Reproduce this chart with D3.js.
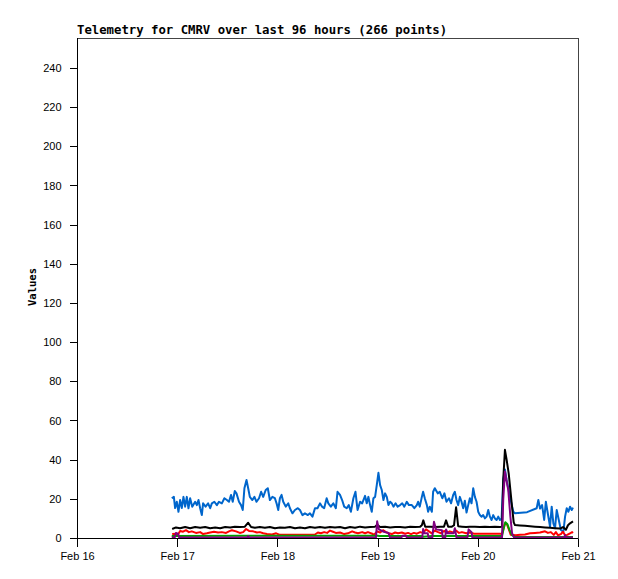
<!DOCTYPE html>
<html>
<head>
<meta charset="utf-8">
<script src="https://cdn.jsdelivr.net/npm/d3@7"></script>
<style>
  html, body { margin: 0; padding: 0; background: #fff; }
  svg { display: block; }
</style>
</head>
<body>
<svg id="chart" width="618" height="579"></svg>
<script>
// ---- data (time = hours since Feb 16 00:00) ----
const titleText = "Telemetry for CMRV over last 96 hours (266 points)";
const yLabel = "Values";
const xTickDays = [16, 17, 18, 19, 20, 21];
const yTickValues = [0, 20, 40, 60, 80, 100, 120, 140, 160, 180, 200, 220, 240];

const blueSeries = [[22.7,20.3],[23.2,21],[23.5,15.3],[23.9,18.5],[24.3,13.4],[24.7,19.4],[25.1,15.3],[25.5,21],[25.9,16],[26.3,21],[26.7,15.2],[27.1,20.3],[27.6,16],[28.3,18.5],[28.7,16.8],[29.1,19.4],[29.5,15.2],[29.9,11.7],[30.2,17.7],[30.8,16],[31.4,17.7],[31.9,15.2],[32.3,17.7],[32.9,18.5],[33.5,16.8],[34.0,18.5],[34.7,17.7],[35.3,20.3],[35.9,19.4],[36.4,18.5],[36.9,22],[37.3,18.5],[37.8,24],[38.2,22.8],[38.8,18.5],[39.3,16.8],[39.7,14.3],[40.1,25.4],[40.6,29.6],[41.0,25.4],[41.4,21],[42.0,19.4],[42.5,21],[43.0,18.5],[43.6,20.3],[44.1,23.6],[44.6,21],[45.2,24.5],[45.7,25.4],[46.2,19.4],[46.8,21],[47.4,20.3],[47.8,17.7],[48.2,14.3],[48.6,20.3],[49.0,22],[49.4,18.5],[50.0,16],[50.6,17.7],[51.0,15.2],[51.6,12.6],[52.2,14.3],[52.9,15.2],[53.4,14.3],[54.0,11.7],[54.6,12.6],[55.3,11.7],[55.8,12.6],[56.4,10.9],[57.0,15.2],[57.6,15.2],[58.2,17.7],[58.7,16],[59.2,15.2],[59.8,20.3],[60.2,17.7],[60.8,16],[61.4,17.7],[62.0,15.2],[62.4,23.6],[63.0,22],[63.5,19.4],[64.0,16],[64.6,15.2],[65.1,16.8],[65.6,13.4],[66.2,20.3],[66.7,23.6],[67.2,14.3],[67.8,18.5],[68.3,17.7],[69.0,21.5],[69.4,17.7],[69.8,21],[70.2,16.8],[70.6,13.4],[71.0,20.3],[71.4,21],[71.8,27],[72.2,33.3],[72.6,27],[73.0,24.5],[73.4,19.4],[73.8,22.8],[74.2,21],[74.6,16.8],[75.0,18.5],[75.4,17.7],[75.8,16],[76.3,17.7],[76.8,16],[77.4,16.8],[77.9,17.7],[78.4,16],[79.0,18.5],[79.5,16.8],[80.2,16.8],[80.8,15.2],[81.4,16.8],[81.7,18.5],[82.1,16],[82.6,21],[82.9,23.6],[83.3,20.3],[83.8,16.8],[84.1,13.4],[84.5,16],[85.0,13.4],[85.3,23.6],[85.7,25.4],[86.4,22.8],[86.9,23.6],[87.5,20.3],[88.0,22.8],[88.5,18.5],[89.1,20.3],[89.6,17.7],[90.1,22],[90.5,23.6],[90.9,19.4],[91.3,16.8],[91.7,21],[92.1,18.5],[92.5,15.2],[92.9,19],[93.3,13],[93.7,16.8],[94.1,20.3],[94.5,17.7],[94.9,25.4],[95.3,21],[95.7,18.5],[96.1,13.4],[96.5,11.7],[96.9,10.9],[97.3,11.7],[97.7,10],[98.1,10.9],[98.5,14.3],[98.9,10.9],[99.3,9.2],[99.7,11.7],[100.1,10],[100.5,9.2],[100.9,10.9],[101.3,9.2],[101.7,10],[102.1,30],[102.5,35],[102.9,29.6],[103.7,21],[104.5,13.4],[104.9,12.6],[107.8,13.2],[110.1,15.2],[110.5,19.4],[110.9,15],[111.4,16.8],[111.9,9.2],[112.3,18.5],[112.7,13.4],[113.3,5.8],[113.7,16],[114.1,7.5],[114.5,5],[114.9,14.3],[115.4,9.2],[115.9,4.1],[116.5,3.2],[116.9,10.9],[117.3,15.2],[117.7,13.4],[118.1,16],[118.5,14.3],[118.8,15.5]];

const blackSeries = [[22.8,4.6],[23.7,5.4],[24.7,5.0],[25.9,5.6],[27.1,5.0],[28.3,5.6],[29.5,5.2],[30.7,5.6],[31.9,5.0],[33.1,5.4],[34.3,5.0],[35.5,5.6],[36.7,5.4],[37.8,5.8],[39.0,5.6],[40.2,5.8],[41.0,7.8],[41.7,5.6],[42.6,5.2],[43.8,5.6],[45.0,5.2],[46.2,5.6],[47.4,5.0],[48.6,5.4],[49.8,5.2],[51.0,5.6],[52.2,5.0],[53.4,5.4],[54.6,5.0],[55.8,5.6],[57.0,5.2],[58.2,5.6],[59.4,5.2],[60.6,5.6],[61.8,5.4],[63.0,5.6],[64.2,5.0],[65.4,5.6],[66.6,5.2],[67.8,5.8],[69.0,5.4],[70.2,5.6],[71.4,5.8],[71.9,6.8],[72.6,5.6],[73.8,5.8],[75.0,5.4],[76.2,5.6],[77.4,5.6],[78.6,5.4],[79.8,5.8],[81.0,5.6],[82.2,5.8],[82.6,6.5],[82.95,9.0],[83.4,5.8],[84.6,5.8],[85.8,5.6],[87.0,5.8],[87.9,5.8],[88.4,9.0],[88.9,5.8],[89.8,5.8],[90.3,6.5],[90.8,15.7],[91.3,6.0],[92.2,5.8],[93.2,5.6],[94.1,5.8],[95.3,5.8],[96.5,5.6],[97.7,5.8],[98.9,5.6],[100.1,5.8],[101.3,5.6],[101.8,5.8],[102.1,30],[102.5,45],[102.9,40],[103.4,33],[104.2,16],[104.6,8],[104.9,6.6],[106.1,6.4],[107.3,6.2],[108.5,6.0],[109.7,5.8],[110.9,5.6],[112.1,5.4],[113.3,5.2],[114.5,5.0],[115.7,4.8],[116.4,5.6],[117.1,4.2],[117.6,6.5],[118.1,7.5],[118.8,8.5]];

const redSeries = [[22.8,2.0],[23.7,2.2],[24.2,1.8],[24.7,3.6],[25.4,3.2],[26.1,4.0],[26.8,3.0],[27.5,3.4],[28.5,2.6],[29.5,3.0],[30.2,2.0],[31.1,2.4],[31.9,2.8],[32.8,3.2],[33.8,2.8],[34.7,3.0],[35.7,2.6],[36.4,3.4],[37.1,4.0],[38.1,3.4],[39.0,2.6],[39.8,3.0],[40.5,4.6],[41.2,3.6],[42.2,3.4],[43.1,2.8],[43.8,3.0],[44.6,2.4],[45.5,2.0],[46.7,1.8],[47.7,2.4],[48.6,1.6],[51.0,1.6],[53.4,1.6],[55.8,1.6],[57.0,1.8],[57.7,2.8],[58.4,2.4],[59.2,3.0],[59.9,2.6],[60.6,3.8],[61.3,3.2],[62.0,2.6],[63.0,2.8],[64.0,2.0],[64.9,2.4],[65.9,3.4],[66.6,2.8],[67.3,2.4],[68.3,3.0],[69.0,2.4],[69.7,3.0],[70.7,2.2],[71.1,1.6],[71.9,3.4],[72.6,2.8],[73.3,4.0],[74.0,3.0],[74.7,2.4],[75.4,2.0],[76.2,2.8],[76.9,2.4],[77.8,2.8],[78.6,2.2],[79.3,2.6],[80.0,2.0],[80.7,2.6],[81.4,2.2],[82.2,3.0],[82.9,2.6],[83.6,4.4],[84.3,3.4],[85.0,2.4],[85.7,3.8],[86.5,3.0],[87.2,2.4],[87.9,3.6],[88.6,2.6],[89.3,3.4],[90.1,2.8],[90.8,3.8],[91.5,2.6],[92.2,3.0],[93.2,2.4],[94.1,2.8],[95.1,2.2],[96.5,2.2],[98.9,2.2],[101.3,2.2],[101.8,2.0],[102.2,5],[102.5,7.5],[103.0,7],[103.5,4],[103.9,1.6],[105.1,1.4],[106.1,1.6],[107.3,1.8],[108.5,2.4],[109.7,2.6],[110.9,2.8],[112.1,3.4],[112.8,2.6],[113.5,3.0],[114.2,1.6],[114.7,3.0],[115.2,1.4],[115.9,2.0],[116.4,3.2],[116.9,1.4],[117.4,1.6],[118.1,2.4],[118.6,3.0],[118.8,2.6]];

const greenSeries = [[22.7,1.0],[40.0,1.2],[60.0,1.2],[72.0,1.2],[72.5,1.0],[82.5,1.0],[83.0,0.6],[85.0,1.0],[101.8,1.0],[102.2,5],[102.6,8],[103.1,7],[103.6,4],[104.2,1.5],[104.9,0.5],[118.8,0.5]];

const purpleSeries = [[22.7,0.2],[23.4,0.3],[23.7,2.6],[24.2,2.2],[24.5,0.2],[40.8,0.2],[41.0,1.0],[41.3,0.2],[71.6,0.2],[71.9,8.5],[72.3,4.4],[73.5,3.2],[74.6,2.6],[75.0,0.2],[77.7,0.2],[77.9,1.2],[78.8,1.2],[79.0,0.2],[82.7,0.2],[82.9,4.6],[83.2,2.4],[84.0,2.4],[84.2,0.2],[85.1,0.2],[85.5,8.3],[86.0,4.4],[87.4,4.0],[87.6,0.2],[88.2,0.2],[88.4,4.4],[88.8,2.4],[90.2,2.4],[90.5,5.0],[90.9,0.2],[93.5,0.2],[93.8,4.4],[94.5,3.0],[94.7,0.2],[101.8,0.2],[102.1,20],[102.5,34],[102.9,29],[103.3,24.5],[103.8,11],[104.2,2.5],[104.7,0.2],[116.7,0.2],[116.9,1.5],[117.1,0.2],[118.8,0.2]];

const seriesList = [
  { data: blueSeries,   color: "#0066cc" },
  { data: blackSeries,  color: "#000000" },
  { data: redSeries,    color: "#ff0000" },
  { data: greenSeries,  color: "#00a000" },
  { data: purpleSeries, color: "#800080" }
];

// ---- layout ----
const svg = d3.select("#chart");
const mLeft = 77, mRight = 578, mTop = 38, mBottom = 538;
const base = Date.UTC(2024, 1, 16);
const toDate = h => new Date(base + h * 3600e3);

const x = d3.scaleUtc()
  .domain([toDate(0), toDate(120)])
  .range([mLeft, mRight]);
const y = d3.scaleLinear()
  .domain([0, 255.3])
  .range([mBottom, mTop]);

svg.append("rect").attr("x", 0).attr("y", 0).attr("width", 618).attr("height", 579).attr("fill", "#fff");

// frame
svg.append("rect")
  .attr("x", mLeft + 0.5).attr("y", mTop + 0.5)
  .attr("width", mRight - mLeft).attr("height", mBottom - mTop)
  .attr("fill", "none").attr("stroke", "#444").attr("stroke-width", 1)
  .attr("shape-rendering", "crispEdges");

// lines
const line = d3.line()
  .x(d => x(toDate(d[0])))
  .y(d => y(d[1]));

svg.append("clipPath").attr("id", "plotclip")
  .append("rect").attr("x", mLeft).attr("y", mTop).attr("width", mRight - mLeft).attr("height", mBottom - mTop + 1);

const plot = svg.append("g").attr("clip-path", "url(#plotclip)");
seriesList.forEach(s => {
  plot.append("path")
    .datum(s.data)
    .attr("fill", "none")
    .attr("stroke", s.color)
    .attr("stroke-width", 2)
    .attr("stroke-linejoin", "round")
    .attr("d", line);
});

// axes
const fmt = d3.utcFormat("%b %-d");
const xAxis = d3.axisBottom(x)
  .tickValues(xTickDays.map(d => toDate((d - 16) * 24)))
  .tickFormat(fmt)
  .tickSize(8)
  .tickPadding(6);
const gx = svg.append("g")
  .attr("transform", `translate(0,${mBottom + 0.5})`)
  .call(xAxis);

const yAxis = d3.axisLeft(y)
  .tickValues(yTickValues)
  .tickSize(8)
  .tickPadding(8);
const gy = svg.append("g")
  .attr("transform", `translate(${mLeft + 0.5},0)`)
  .call(yAxis);

[gx, gy].forEach(g => {
  g.select(".domain").attr("stroke", "#000").attr("shape-rendering", "crispEdges");
  g.selectAll(".tick line").attr("stroke", "#000").attr("shape-rendering", "crispEdges");
  g.selectAll(".tick text")
    .attr("fill", "#000")
    .style("font-family", "'Liberation Sans', Arial, sans-serif")
    .style("font-size", "11px");
});
gx.select(".domain").attr("d", `M${mLeft},0H${mRight}`);
gy.select(".domain").attr("d", `M0,${mTop}V${mBottom}`);

// title
svg.append("text")
  .attr("x", mLeft)
  .attr("y", 34)
  .attr("fill", "#000")
  .style("font-family", "'DejaVu Sans Mono', monospace")
  .style("font-weight", "bold")
  .style("font-size", "12.3px")
  .text(titleText);

// y label
svg.append("text")
  .attr("transform", "translate(36,287) rotate(-90)")
  .attr("text-anchor", "middle")
  .attr("fill", "#000")
  .style("font-family", "'DejaVu Sans Mono', monospace")
  .style("font-weight", "bold")
  .style("font-size", "10.5px")
  .text(yLabel);
</script>
</body>
</html>
